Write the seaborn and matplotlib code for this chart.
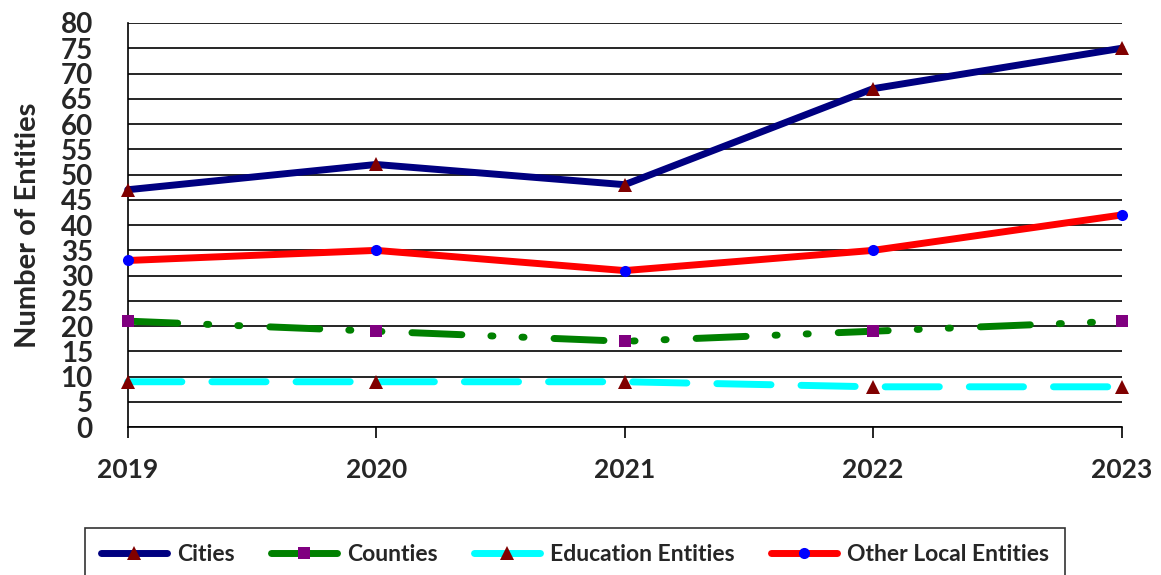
import matplotlib
matplotlib.use("Agg")
import matplotlib.pyplot as plt
import pandas as pd
import seaborn as sns

YEARS = [2019, 2020, 2021, 2022, 2023]
CITIES = [47, 52, 48, 67, 75]
COUNTIES = [21, 19, 17, 19, 21]
EDUCATION = [9, 9, 9, 8, 8]
OTHER_LOCAL = [33, 35, 31, 35, 42]

SERIES = ["Cities", "Counties", "Education Entities", "Other Local Entities"]
Y_TICKS = list(range(0, 85, 5))

STYLES = {
    "Cities": dict(color="#000080", ls="-", marker="^", mc="#800000", ms=10),
    "Counties": dict(color="#008000", ls=(0, (36, 20.9, 1.5, 20.9, 1.5, 21.6)), marker="s", mc="#800080", ms=8),
    "Education Entities": dict(color="#00FFFF", ls=(0, (39, 21.6)), marker="^", mc="#800000", ms=10),
    "Other Local Entities": dict(color="#FF0000", ls="-", marker="o", mc="#0000FF", ms=8),
}


def main() -> None:
    df = pd.DataFrame({
        "Year": YEARS,
        "Cities": CITIES,
        "Counties": COUNTIES,
        "Education Entities": EDUCATION,
        "Other Local Entities": OTHER_LOCAL,
    })
    df_long = df.melt(id_vars="Year", var_name="Series", value_name="Entities")

    sns.set_style("white")
    plt.rcParams["font.family"] = ["Lato", "DejaVu Sans"]
    plt.rcParams["lines.scale_dashes"] = False

    fig = plt.figure(figsize=(11.61, 5.75), dpi=100)
    ax = fig.add_axes([0.110, 0.257, 0.856, 0.703])

    for name in SERIES:
        st = STYLES[name]
        sub = df_long[df_long["Series"] == name]
        sns.lineplot(
            data=sub, x="Year", y="Entities", ax=ax, color=st["color"],
            linewidth=5, linestyle=st["ls"], marker=st["marker"],
            markersize=st["ms"], markerfacecolor=st["mc"],
            markeredgecolor=st["mc"], markeredgewidth=0,
            dash_capstyle="round", solid_capstyle="round",
            label=name, clip_on=False, zorder=3,
        )

    ax.set_xlim(2019, 2023)
    ax.set_ylim(0, 80)
    ax.set_yticks(Y_TICKS)
    ax.set_xticks(YEARS)
    ax.yaxis.grid(True, color="black", linewidth=1.2)
    ax.set_axisbelow(True)
    for side in ["top", "right"]:
        ax.spines[side].set_visible(False)
    for side in ["left", "bottom"]:
        ax.spines[side].set_color("black")
        ax.spines[side].set_linewidth(1.2)

    ax.tick_params(axis="y", length=0, pad=25, labelsize=20)
    ax.tick_params(axis="x", direction="out", length=8, width=1.2, color="black",
                   pad=14, labelsize=19, bottom=True)
    for lbl in ax.get_xticklabels() + ax.get_yticklabels():
        lbl.set_fontweight("bold")
    ax.set_xlabel("")
    ax.set_ylabel("Number of Entities", fontsize=21, fontweight="bold", labelpad=14)

    if ax.legend_:
        ax.legend_.remove()
    handles, labels = ax.get_legend_handles_labels()
    leg = fig.legend(
        handles, labels, loc="upper left", bbox_to_anchor=(0.073, 0.082),
        bbox_transform=fig.transFigure, ncol=4, frameon=True, fancybox=False,
        edgecolor="black", fontsize=16.5, handlelength=2.9, handletextpad=0.45,
        columnspacing=1.55, borderpad=0.7, borderaxespad=0,
    )
    leg.get_frame().set_linewidth(1.2)
    for h in leg.get_lines():
        h.set_linestyle("-")
    for t in leg.get_texts():
        t.set_fontweight("bold")

    fig.savefig("out.png", dpi=100)


if __name__ == "__main__":
    main()
